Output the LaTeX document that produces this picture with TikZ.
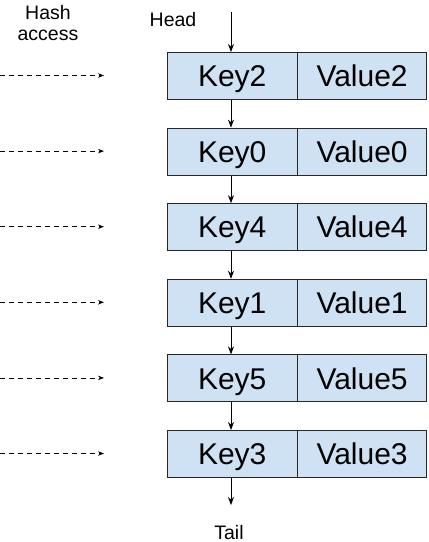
\documentclass[tikz,border=0pt]{standalone}
\usepackage{fontspec}
\setmainfont{Liberation Sans}
\usetikzlibrary{arrows.meta}
\definecolor{cellblue}{RGB}{207,226,243}
\begin{document}
\begin{tikzpicture}[x=1pt,y=-1pt,
  cell/.style={draw=black!85,fill=cellblue,line width=0.9pt,minimum height=47pt,inner sep=0pt,text height=21.5pt,text depth=0pt,font=\fontsize{30}{34}\selectfont},
  keycell/.style={cell,minimum width=129.5pt},
  valcell/.style={cell,minimum width=128.5pt},
  lbl/.style={font=\fontsize{19.5}{21.5}\selectfont,inner sep=0pt},
  link/.style={-{Stealth[length=8pt,width=6pt]},line width=0.8pt},
  hash/.style={-{Stealth[length=6pt,width=4.5pt]},line width=0.8pt,dash pattern=on 5pt off 4pt}]
\useasboundingbox (0,0) rectangle (429,542);
\foreach \k/\v [count=\i from 0] in {2/2,0/0,4/4,1/1,5/5,3/3}{
  \node[keycell,anchor=north west] (k\i) at (167,{52+75.6*\i}) {Key\k};
  \node[valcell,anchor=west] (v\i) at (k\i.east) {Value\v};
  \coordinate (hs\i) at (0,{75.5+75.6*\i});
  \coordinate (he\i) at (104,{75.5+75.6*\i});
  \draw[hash] (hs\i) -- (he\i);
}
\node[lbl,align=center,text depth=0pt,anchor=south] (hashlbl) at (48,41) {Hash\\access};
\node[lbl,anchor=base] (head) at (173,26.5) {Head};
\coordinate (headtop) at (231,12);
\draw[link] (headtop) -- (headtop |- k0.north);
\foreach \i/\j in {0/1,1/2,2/3,3/4,4/5}{
  \draw[link] (231,0 |- k\i.south) -- (231,0 |- k\j.north);
}
\coordinate (tailend) at (231,505);
\draw[link] (tailend |- k5.south) -- (tailend);
\node[lbl,anchor=base] (tail) at (229,539) {Tail};
\end{tikzpicture}
\end{document}
